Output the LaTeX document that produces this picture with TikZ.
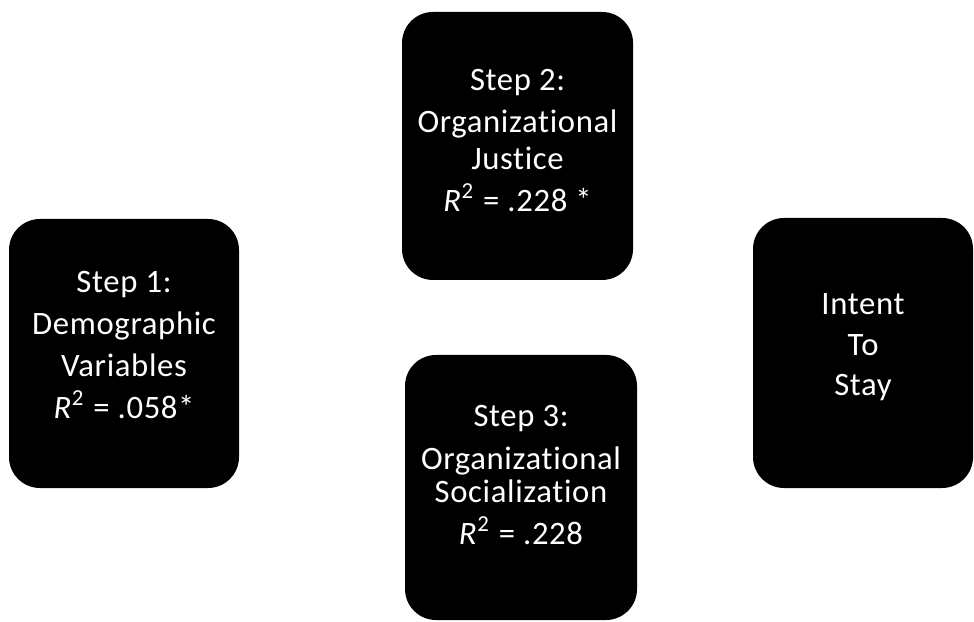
\documentclass[tikz,border=0pt]{standalone}
\usepackage{fontspec}
\setmainfont[Ligatures=NoCommon, LetterSpace=2]{Carlito}
\usepackage{tikz}
\usetikzlibrary{positioning}
% extra depth under the last line lifts the text a little
\newcommand{\lift}[1]{\rule[-#1]{0pt}{#1}}

\begin{document}
\begin{tikzpicture}[stepbox/.style={rectangle, rounded corners=0.31cm, fill=black, draw=none,
      text=white, align=center, inner sep=0pt,
      font=\fontsize{9.3}{12}\selectfont}]
    \useasboundingbox (0,0) rectangle (9.74,6.21);

    \node[stepbox, minimum width=2.30cm, minimum height=2.69cm] (step1) at (1.24,2.675)
      {Step 1:\\Demographic\\Variables\\\textit{R}\textsuperscript{2} = .058*\lift{5pt}};
    \node[stepbox, minimum width=2.31cm, minimum height=2.68cm] (step2) at (5.175,4.75)
      {Step 2:\\Organizational\\[-1.5pt]Justice\\\textit{R}\textsuperscript{2} = .228 *\lift{3pt}};
    \node[stepbox, minimum width=2.32cm, minimum height=2.65cm] (step3) at (5.21,1.335)
      {Step 3:\\Organizational\\[-2.5pt]Socialization\\\textit{R}\textsuperscript{2} = .228\lift{7pt}};
    \node[stepbox, minimum width=2.20cm, minimum height=2.70cm] (intent) at (8.63,2.68)
      {Intent\\[-0.5pt]To\\[-0.5pt]Stay\lift{4.7pt}};
  \end{tikzpicture}
\end{document}
